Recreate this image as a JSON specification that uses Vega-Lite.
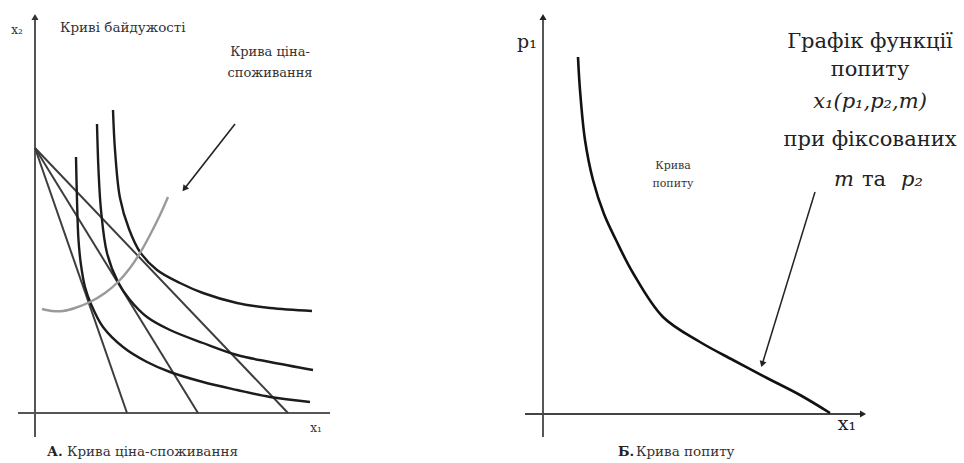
{
  "$schema": "https://vega.github.io/schema/vega-lite/v6.json",
  "padding": 0,
  "spacing": 0,
  "bounds": "flush",
  "background": "white",
  "config": {"view": {"stroke": null}, "text": {"font": "DejaVu Serif", "color": "#222"}},
  "resolve": {"scale": {"x": "independent", "y": "independent"}},
  "datasets": {
    "leftAxes": [
      {"x": 0, "y": -2.4, "x2": 0, "y2": 39.6},
      {"x": -1.7, "y": 0, "x2": 29.5, "y2": 0}
    ],
    "leftBudget": [
      {"x": 0, "y": 26.5, "x2": 9.2, "y2": 0},
      {"x": 0, "y": 26.5, "x2": 16.3, "y2": 0},
      {"x": 0, "y": 26.5, "x2": 25.3, "y2": 0}
    ],
    "leftCurves": [
      {"curve": "U1", "kind": "indifference", "x": 4.1, "y": 25.6},
      {"curve": "U1", "kind": "indifference", "x": 4.2, "y": 21.3},
      {"curve": "U1", "kind": "indifference", "x": 4.35, "y": 17.3},
      {"curve": "U1", "kind": "indifference", "x": 4.6, "y": 14.8},
      {"curve": "U1", "kind": "indifference", "x": 5.0, "y": 12.6},
      {"curve": "U1", "kind": "indifference", "x": 5.6, "y": 10.9},
      {"curve": "U1", "kind": "indifference", "x": 6.8, "y": 8.6},
      {"curve": "U1", "kind": "indifference", "x": 8.8, "y": 6.6},
      {"curve": "U1", "kind": "indifference", "x": 11.2, "y": 5.1},
      {"curve": "U1", "kind": "indifference", "x": 13.5, "y": 4.1},
      {"curve": "U1", "kind": "indifference", "x": 16.8, "y": 3.1},
      {"curve": "U1", "kind": "indifference", "x": 20.2, "y": 2.3},
      {"curve": "U1", "kind": "indifference", "x": 23.5, "y": 1.6},
      {"curve": "U1", "kind": "indifference", "x": 27.5, "y": 1.1},
      {"curve": "U2", "kind": "indifference", "x": 6.2, "y": 28.9},
      {"curve": "U2", "kind": "indifference", "x": 6.35, "y": 24.3},
      {"curve": "U2", "kind": "indifference", "x": 6.6, "y": 20.3},
      {"curve": "U2", "kind": "indifference", "x": 7.2, "y": 16.0},
      {"curve": "U2", "kind": "indifference", "x": 8.3, "y": 13.1},
      {"curve": "U2", "kind": "indifference", "x": 9.5, "y": 11.3},
      {"curve": "U2", "kind": "indifference", "x": 11.2, "y": 9.6},
      {"curve": "U2", "kind": "indifference", "x": 13.5, "y": 8.3},
      {"curve": "U2", "kind": "indifference", "x": 16.8, "y": 7.0},
      {"curve": "U2", "kind": "indifference", "x": 20.2, "y": 5.8},
      {"curve": "U2", "kind": "indifference", "x": 23.5, "y": 5.1},
      {"curve": "U2", "kind": "indifference", "x": 27.8, "y": 4.3},
      {"curve": "U3", "kind": "indifference", "x": 7.8, "y": 30.3},
      {"curve": "U3", "kind": "indifference", "x": 8.0, "y": 26.3},
      {"curve": "U3", "kind": "indifference", "x": 8.5, "y": 21.5},
      {"curve": "U3", "kind": "indifference", "x": 9.4, "y": 18.4},
      {"curve": "U3", "kind": "indifference", "x": 10.5, "y": 16.1},
      {"curve": "U3", "kind": "indifference", "x": 12.2, "y": 14.3},
      {"curve": "U3", "kind": "indifference", "x": 14.5, "y": 13.0},
      {"curve": "U3", "kind": "indifference", "x": 16.8, "y": 12.0},
      {"curve": "U3", "kind": "indifference", "x": 20.2, "y": 11.0},
      {"curve": "U3", "kind": "indifference", "x": 23.5, "y": 10.5},
      {"curve": "U3", "kind": "indifference", "x": 27.7, "y": 10.2},
      {"curve": "PCC", "kind": "price-consumption", "x": 0.7, "y": 10.4},
      {"curve": "PCC", "kind": "price-consumption", "x": 1.7, "y": 10.2},
      {"curve": "PCC", "kind": "price-consumption", "x": 2.8, "y": 10.2},
      {"curve": "PCC", "kind": "price-consumption", "x": 4.0, "y": 10.5},
      {"curve": "PCC", "kind": "price-consumption", "x": 5.5, "y": 11.1},
      {"curve": "PCC", "kind": "price-consumption", "x": 7.0, "y": 12.0},
      {"curve": "PCC", "kind": "price-consumption", "x": 8.3, "y": 13.1},
      {"curve": "PCC", "kind": "price-consumption", "x": 9.5, "y": 14.5},
      {"curve": "PCC", "kind": "price-consumption", "x": 10.5, "y": 16.0},
      {"curve": "PCC", "kind": "price-consumption", "x": 11.5, "y": 17.8},
      {"curve": "PCC", "kind": "price-consumption", "x": 12.5, "y": 19.8},
      {"curve": "PCC", "kind": "price-consumption", "x": 13.3, "y": 21.6}
    ],
    "leftArrow": [{"x": 20.0, "y": 28.9, "x2": 14.94, "y2": 22.42}],
    "leftArrowHead": [{"x": 14.94, "y": 22.42}],
    "leftAxisHead": [{"x": 0, "y": 39.6}],
    "leftText": [
      {"label": "x₂", "x": -1.8, "y": 38.3},
      {"label": "x₁", "x": 28.1, "y": -1.5}
    ],
    "leftTextLeft": [
      {"label": "Криві байдужості", "x": 2.5, "y": 38.5}
    ],
    "leftTextCenter": [
      {"label": "Крива ціна-", "x": 23.5, "y": 36.1},
      {"label": "споживання", "x": 23.5, "y": 34.0}
    ],
    "leftCaptionBold": [{"label": "А.", "x": 1.2, "y": -3.9}],
    "leftCaption": [{"label": "Крива ціна-споживання", "x": 3.2, "y": -3.9}],
    "rightAxes": [
      {"x": 0, "y": -2.3, "x2": 0, "y2": 39.7},
      {"x": -1.8, "y": 0, "x2": 32.0, "y2": 0}
    ],
    "rightAxisHeadUp": [{"x": 0, "y": 39.7}],
    "rightAxisHeadRight": [{"x": 32.0, "y": 0}],
    "demand": [
      {"x": 3.5, "y": 35.7},
      {"x": 3.7, "y": 32.4},
      {"x": 4.2, "y": 27.4},
      {"x": 5.0, "y": 23.4},
      {"x": 6.1, "y": 20.0},
      {"x": 7.3, "y": 17.4},
      {"x": 9.0, "y": 14.1},
      {"x": 12.0, "y": 9.7},
      {"x": 15.7, "y": 7.2},
      {"x": 19.0, "y": 5.4},
      {"x": 22.4, "y": 3.6},
      {"x": 25.7, "y": 1.9},
      {"x": 28.7, "y": 0.1}
    ],
    "rightArrow": [{"x": 27.2, "y": 22.2, "x2": 21.92, "y2": 4.98}],
    "rightArrowHead": [{"x": 21.92, "y": 4.98}],
    "rightSmall": [
      {"label": "Крива", "x": 13.0, "y": 24.8},
      {"label": "попиту", "x": 13.0, "y": 23.0}
    ],
    "rightBig": [
      {"label": "Графік функції", "x": 32.7, "y": 37.2},
      {"label": "попиту", "x": 32.7, "y": 34.4},
      {"label": "при фіксованих", "x": 32.7, "y": 27.4},
      {"label": "та", "x": 33.1, "y": 23.4}
    ],
    "rightBigItalic": [
      {"label": "x₁(p₁,p₂,m)", "x": 32.7, "y": 31.2},
      {"label": "m", "x": 30.1, "y": 23.4},
      {"label": "p₂", "x": 36.9, "y": 23.4}
    ],
    "rightAxisLabels": [
      {"label": "p₁", "x": -1.6, "y": 37.2},
      {"label": "x₁", "x": 30.4, "y": -1.0}
    ],
    "rightCaptionBold": [{"label": "Б.", "x": 7.5, "y": -3.8}],
    "rightCaption": [{"label": "Крива попиту", "x": 9.3, "y": -3.8}]
  },
  "hconcat": [
    {
      "width": 482,
      "height": 463,
      "encoding": {
        "x": {"field": "x", "type": "quantitative", "scale": {"domain": [-3.5, 44.7], "nice": false, "zero": false}, "axis": null},
        "y": {"field": "y", "type": "quantitative", "scale": {"domain": [-5, 41.3], "nice": false, "zero": false}, "axis": null}
      },
      "layer": [
        {"data": {"name": "leftAxes"}, "mark": {"type": "rule", "color": "#555", "strokeWidth": 2}, "encoding": {"x2": {"field": "x2"}, "y2": {"field": "y2"}}},
        {"data": {"name": "leftAxisHead"}, "mark": {"type": "point", "shape": "triangle-up", "filled": true, "color": "#333", "size": 50, "opacity": 1}},
        {"data": {"name": "leftBudget"}, "mark": {"type": "rule", "color": "#3d3d3d", "strokeWidth": 2}, "encoding": {"x2": {"field": "x2"}, "y2": {"field": "y2"}}},
        {"data": {"name": "leftCurves"}, "mark": {"type": "line", "interpolate": "catmull-rom", "strokeWidth": 2.4}, "encoding": {
          "detail": {"field": "curve"},
          "color": {"field": "kind", "type": "nominal", "scale": {"domain": ["indifference", "price-consumption"], "range": ["#1c1c1c", "#9a9a9a"]}, "legend": null}
        }},
        {"data": {"name": "leftArrow"}, "mark": {"type": "rule", "color": "#222", "strokeWidth": 1.6}, "encoding": {"x2": {"field": "x2"}, "y2": {"field": "y2"}}},
        {"data": {"name": "leftArrowHead"}, "mark": {"type": "point", "shape": "triangle-up", "filled": true, "color": "#222", "size": 50, "angle": 217.7, "opacity": 1}},
        {"data": {"name": "leftText"}, "mark": {"type": "text", "font": "DejaVu Serif", "fontSize": 12, "align": "center", "baseline": "middle", "color": "#333"}, "encoding": {"text": {"field": "label"}}},
        {"data": {"name": "leftTextLeft"}, "mark": {"type": "text", "font": "DejaVu Serif", "fontSize": 13.5, "align": "left", "baseline": "middle", "color": "#333"}, "encoding": {"text": {"field": "label"}}},
        {"data": {"name": "leftTextCenter"}, "mark": {"type": "text", "font": "DejaVu Serif", "fontSize": 13, "align": "center", "baseline": "middle", "color": "#333"}, "encoding": {"text": {"field": "label"}}},
        {"data": {"name": "leftCaptionBold"}, "mark": {"type": "text", "font": "DejaVu Serif", "fontSize": 13.5, "fontWeight": "bold", "align": "left", "baseline": "middle", "color": "#222"}, "encoding": {"text": {"field": "label"}}},
        {"data": {"name": "leftCaption"}, "mark": {"type": "text", "font": "DejaVu Serif", "fontSize": 13.5, "align": "left", "baseline": "middle", "color": "#333"}, "encoding": {"text": {"field": "label"}}}
      ]
    },
    {
      "width": 482,
      "height": 463,
      "encoding": {
        "x": {"field": "x", "type": "quantitative", "scale": {"domain": [-6.1, 42.1], "nice": false, "zero": false}, "axis": null},
        "y": {"field": "y", "type": "quantitative", "scale": {"domain": [-4.9, 41.4], "nice": false, "zero": false}, "axis": null}
      },
      "layer": [
        {"data": {"name": "rightAxes"}, "mark": {"type": "rule", "color": "#444", "strokeWidth": 1.8}, "encoding": {"x2": {"field": "x2"}, "y2": {"field": "y2"}}},
        {"data": {"name": "rightAxisHeadUp"}, "mark": {"type": "point", "shape": "triangle-up", "filled": true, "color": "#222", "size": 50, "opacity": 1}},
        {"data": {"name": "rightAxisHeadRight"}, "mark": {"type": "point", "shape": "triangle-up", "filled": true, "color": "#222", "size": 50, "angle": 90, "opacity": 1}},
        {"data": {"name": "demand"}, "mark": {"type": "line", "interpolate": "catmull-rom", "strokeWidth": 2.6, "color": "#111"}},
        {"data": {"name": "rightArrow"}, "mark": {"type": "rule", "color": "#222", "strokeWidth": 1.5}, "encoding": {"x2": {"field": "x2"}, "y2": {"field": "y2"}}},
        {"data": {"name": "rightArrowHead"}, "mark": {"type": "point", "shape": "triangle-up", "filled": true, "color": "#222", "size": 50, "angle": 197.3, "opacity": 1}},
        {"data": {"name": "rightSmall"}, "mark": {"type": "text", "font": "DejaVu Serif", "fontSize": 11, "align": "center", "baseline": "middle", "color": "#333"}, "encoding": {"text": {"field": "label"}}},
        {"data": {"name": "rightBig"}, "mark": {"type": "text", "font": "DejaVu Serif", "fontSize": 21, "align": "center", "baseline": "middle", "color": "#222"}, "encoding": {"text": {"field": "label"}}},
        {"data": {"name": "rightBigItalic"}, "mark": {"type": "text", "font": "DejaVu Serif", "fontSize": 21, "fontStyle": "italic", "align": "center", "baseline": "middle", "color": "#222"}, "encoding": {"text": {"field": "label"}}},
        {"data": {"name": "rightAxisLabels"}, "mark": {"type": "text", "font": "DejaVu Serif", "fontSize": 19, "align": "center", "baseline": "middle", "color": "#222"}, "encoding": {"text": {"field": "label"}}},
        {"data": {"name": "rightCaptionBold"}, "mark": {"type": "text", "font": "DejaVu Serif", "fontSize": 13.5, "fontWeight": "bold", "align": "left", "baseline": "middle", "color": "#222"}, "encoding": {"text": {"field": "label"}}},
        {"data": {"name": "rightCaption"}, "mark": {"type": "text", "font": "DejaVu Serif", "fontSize": 13.5, "align": "left", "baseline": "middle", "color": "#333"}, "encoding": {"text": {"field": "label"}}}
      ]
    }
  ]
}
